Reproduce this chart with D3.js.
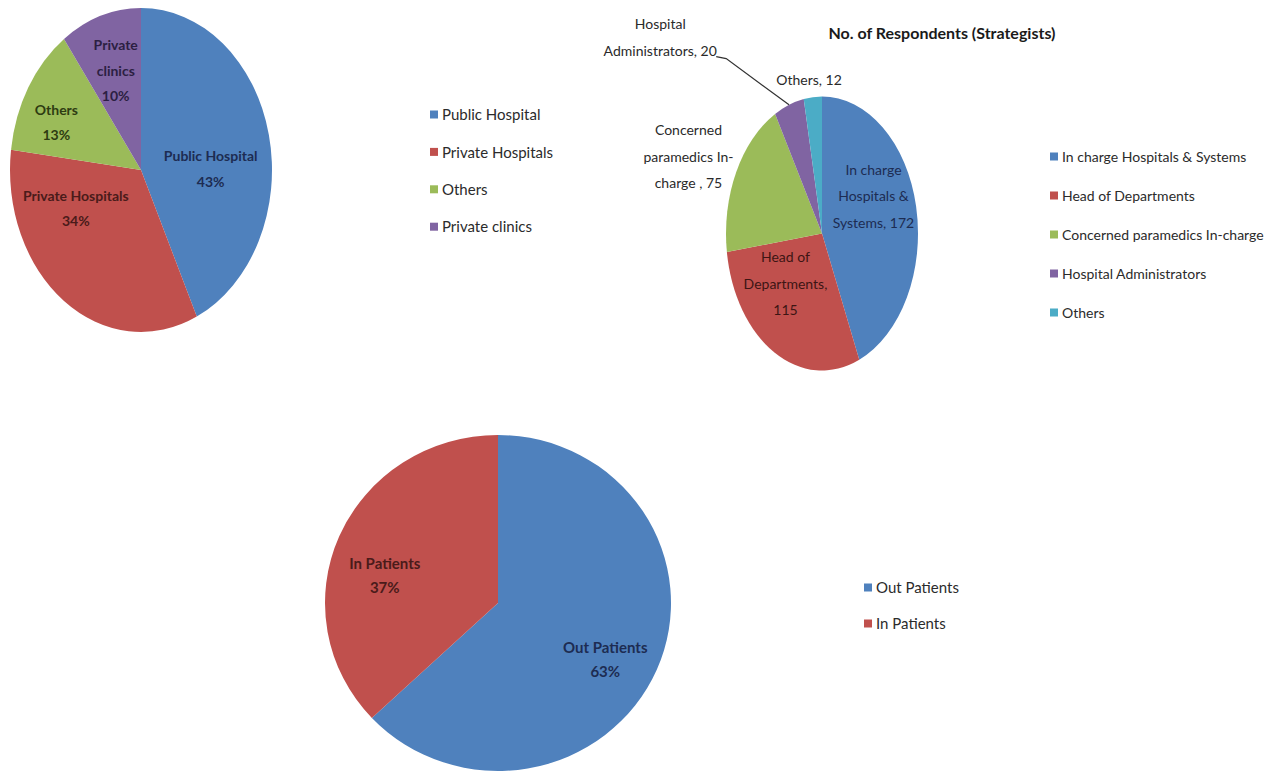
<!DOCTYPE html>
<html>
<head>
<meta charset="utf-8">
<script src="https://cdn.jsdelivr.net/npm/d3@7"></script>
<style>
  html, body { margin: 0; padding: 0; background: #fff; }
  svg { display: block; }
  text { font-family: Lato, "Open Sans", sans-serif; }
</style>
</head>
<body>
<div id="chart"></div>
<script>
// ---- data
const sectorCats   = ["Public Hospital", "Private Hospitals", "Others", "Private clinics"];
const sectorShares = [43, 34, 13, 10];
const sectorLabels = [["Public Hospital", "43%"], ["Private Hospitals", "34%"], ["Others", "13%"], ["Private", "clinics", "10%"]];

const roleTitle  = "No. of Respondents (Strategists)";
const roleCats   = ["In charge Hospitals  & Systems", "Head of Departments", "Concerned paramedics In-charge", "Hospital  Administrators", "Others"];
const roleCounts = [172, 115, 75, 20, 12];
const roleLabels = [["In charge", "Hospitals  &", "Systems, 172"], ["Head of", "Departments,", "115"], ["Concerned", "paramedics In-", "charge , 75"], ["Hospital", "Administrators, 20"], ["Others, 12"]];

const patientCats   = ["Out Patients", "In Patients"];
const patientShares = [63, 37];
const patientLabels = [["Out Patients", "63%"], ["In Patients", "37%"]];

// ---- look
const W = 1275, H = 778;
const palette = ["#4f81bd", "#c0504d", "#9bbb59", "#8064a2", "#4bacc6"];
const inkOn   = ["#1d2c52", "#4a1b1a", "#2e3c12", "#2c1f42", "#1a3a44"];

let svg = d3.select("#chart").append("svg")
  .attr("width", W).attr("height", H);

function pieChart(opts) {
  let g = svg.append("g").attr("transform", `translate(${opts.cx},${opts.cy})`);
  let sy = opts.ry / opts.rx;

  let arcs = d3.pie().sort(null).value(d => d)(opts.values);
  let arc = d3.arc().innerRadius(0).outerRadius(opts.rx);
  let labelArc = d3.arc().innerRadius(opts.rx * 0.6).outerRadius(opts.rx * 0.6);

  g.append("g").attr("transform", `scale(1,${sy})`)
    .selectAll("path")
    .data(arcs)
    .enter().append("path")
      .attr("d", arc)
      .attr("fill", (d, i) => palette[i]);

  // leader lines for labels pushed out of the pie
  (opts.leaders || []).forEach(function(k) {
    let a = arcs[k], mid = (a.startAngle + a.endAngle) / 2;
    let px = opts.rx * Math.sin(mid), py = -opts.ry * Math.cos(mid);
    let c = labelArc.centroid(a);
    let lx = c[0] + opts.nudge[k][0], ly = c[1] * sy + opts.nudge[k][1];
    let lines = opts.labels[k];
    let ex = lx + opts.leaderGap, ey = ly + (lines.length - 1) * opts.lineH / 2 + 6;
    g.append("polyline")
      .attr("points", [[ex, ey], [ex + 10, ey + 2], [px, py]].map(p => p.join(",")).join(" "))
      .attr("fill", "none")
      .attr("stroke", "#333")
      .attr("stroke-width", 1.2);
  });

  let lab = g.selectAll("text.lab")
    .data(arcs)
    .enter().append("text")
      .attr("class", "lab")
      .attr("text-anchor", "middle")
      .attr("font-size", opts.fontSize)
      .attr("font-weight", opts.bold ? "bold" : "normal")
      .attr("fill", (d, i) => opts.outside && opts.outside.includes(i) ? "#2a2a2a" : (opts.ink || inkOn)[i])
      .attr("transform", function(d, i) {
        let c = labelArc.centroid(d);
        return `translate(${c[0] + opts.nudge[i][0]},${c[1] * sy + opts.nudge[i][1]})`;
      });

  lab.each(function(d, i) {
    let lines = opts.labels[i];
    let t = d3.select(this);
    lines.forEach(function(s, j) {
      t.append("tspan")
        .attr("x", 0)
        .attr("y", (j - (lines.length - 1) / 2) * opts.lineH)
        .attr("dy", "0.36em")
        .text(s);
    });
  });
}

function legend(x, y, step, cats, fontSize) {
  let g = svg.append("g").attr("transform", `translate(${x},${y})`);
  let row = g.selectAll("g")
    .data(cats)
    .enter().append("g")
      .attr("transform", (d, i) => `translate(0,${i * step})`);
  row.append("rect")
    .attr("x", 0).attr("y", -4.5)
    .attr("width", 8).attr("height", 8)
    .attr("fill", (d, i) => palette[i]);
  row.append("text")
    .attr("x", 12)
    .attr("dy", "0.35em")
    .attr("font-size", fontSize)
    .attr("fill", "#2b2b2b")
    .text(d => d);
}

// ---- sector pie (top left)
pieChart({
  cx: 141, cy: 170, rx: 131, ry: 162,
  values: sectorShares, labels: sectorLabels,
  nudge: [[-7, 20], [-19, -40], [-17, 2], [-1, -7]],
  fontSize: 14, lineH: 25.5, bold: true
});
legend(430, 115, 37.4, sectorCats, 15);

// ---- respondents pie (top right)
svg.append("text")
  .attr("x", 942).attr("y", 33).attr("dy", "0.35em")
  .attr("text-anchor", "middle")
  .attr("font-size", 16).attr("font-weight", "bold")
  .attr("fill", "#1a1a1a")
  .text(roleTitle);

pieChart({
  cx: 822, cy: 233.5, rx: 96, ry: 137,
  values: roleCounts, labels: roleLabels,
  nudge: [[-5, -21], [-8, -21], [-82, -40], [-142, -119], [-7.5, -72]],
  outside: [2, 3, 4], leaders: [3], leaderGap: 56,
  ink: ["#1d2c52", "#3d1514", "#2a2a2a", "#2a2a2a", "#2a2a2a"],
  fontSize: 14, lineH: 26.5, bold: false
});
legend(1050, 157, 39, roleCats, 14);

// ---- patients pie (bottom)
pieChart({
  cx: 498, cy: 603, rx: 173, ry: 168,
  values: patientShares, labels: patientLabels,
  nudge: [[12, 16.5], [-18, 13]],
  fontSize: 15, lineH: 24, bold: true
});
legend(864, 588, 36, patientCats, 15);
</script>
</body>
</html>
